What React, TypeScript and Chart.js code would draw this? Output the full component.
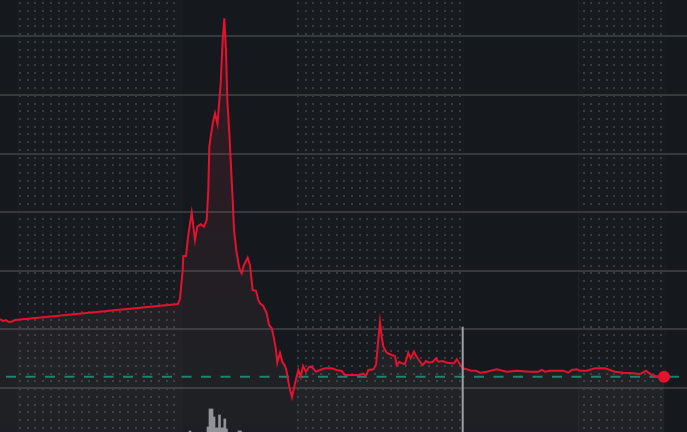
import React, { useEffect, useRef } from "react";
import { Chart, registerables } from "chart.js";

Chart.register(...registerables);

// Time (minutes from left edge of the view) and price samples
const times = [
  0, 3, 6, 9, 12, 15, 178, 180, 182.7, 183.3, 186, 188.3, 191.7, 195, 197.3, 200.7, 204, 206.7,
  208.3, 209.3, 210.7, 213, 215, 217.5, 220.7, 222.7, 224.3, 226, 227.3, 229.3, 231, 232.7, 234,
  236.7, 239.3, 241.7, 244, 247.7, 250, 252.7, 256, 258.3, 260, 263.3, 266.7, 269, 271.7, 274,
  276, 277.3, 280, 282.3, 285, 286.7, 289.3, 292, 295, 298.3, 300.7, 303, 306, 309, 311.7, 316,
  320, 325, 331.7, 336.7, 341.7, 345, 350, 360, 363.3, 366, 368.3, 373.3, 376, 378.3, 380, 381.7,
  383.3, 386.7, 391.7, 395, 396.7, 399.3, 401.7, 405, 408.3, 410.7, 414, 416.7, 420, 422.7, 426,
  429.3, 432.7, 436, 438.3, 442.7, 447.3, 451.7, 454, 456.7, 459.3, 462.7, 466.7, 471.7, 476, 480,
  486.7, 496.7, 506.7, 516.7, 530, 538.3, 541.7, 545, 550, 563.3, 568.3, 571.7, 576.7, 580, 586.7,
  595, 605, 610, 615, 623.3, 633.3, 640, 646, 651.7, 658.3, 664,
];
const prices = [
  1.589, 1.572, 1.58, 1.563, 1.568, 1.58, 1.717, 1.766, 2.007, 2.127, 2.127, 2.306, 2.496, 2.263,
  2.377, 2.397, 2.377, 2.434, 2.69, 3.059, 3.145, 3.27, 3.344, 3.253, 3.603, 3.97, 4.155, 3.885,
  3.458, 3.176, 2.889, 2.604, 2.348, 2.15, 2.022, 1.979, 2.05, 2.112, 2.05, 1.836, 1.83, 1.751,
  1.723, 1.7, 1.638, 1.538, 1.51, 1.424, 1.324, 1.216, 1.301, 1.224, 1.188, 1.139, 1.011, 0.921,
  1.04, 1.154, 1.096, 1.188, 1.139, 1.179, 1.182, 1.139, 1.154, 1.168, 1.168, 1.154, 1.145, 1.111,
  1.111, 1.111, 1.125, 1.102, 1.154, 1.16, 1.196, 1.41, 1.566, 1.438, 1.352, 1.301, 1.282, 1.273,
  1.196, 1.224, 1.211, 1.205, 1.301, 1.253, 1.31, 1.267, 1.224, 1.196, 1.23, 1.216, 1.224, 1.253,
  1.224, 1.23, 1.216, 1.211, 1.211, 1.245, 1.211, 1.168, 1.16, 1.148, 1.148, 1.131, 1.139, 1.16,
  1.139, 1.148, 1.139, 1.139, 1.154, 1.139, 1.148, 1.148, 1.131, 1.154, 1.16, 1.148, 1.148, 1.168,
  1.168, 1.154, 1.139, 1.131, 1.125, 1.119, 1.148, 1.111, 1.096, 1.096,
];

const prevClose = 1.096;
const gridLevels = [1, 1.5, 2, 2.5, 3, 3.5, 4];

const volTimes = [190, 208, 210, 212, 214, 216, 217.5, 219.5, 221.5, 223, 224.8, 226.5, 239, 240.5];
const volumes = [2, 10, 46, 46, 30, 8, 8, 34, 8, 8, 26, 6, 2, 2];

const sessionBands: [number, number][] = [
  [18, 181],
  [297, 462.5],
  [578, 665],
];
const markerTime = 462.7;
const markerTop = 1.523;

const xMin = 0;
const xMax = 687;
const yMin = 0.6245;
const yMax = 4.3115;
const volMax = 864;

const BG = "#15181c";

const bgPlugin = {
  id: "bgDots",
  beforeDraw(chart: any) {
    const { ctx, width, height } = chart;
    const x = chart.scales.x;
    ctx.save();
    ctx.fillStyle = BG;
    ctx.fillRect(0, 0, width, height);
    const step = 7.72;
    for (const [a, b] of sessionBands) {
      const pa = x.getPixelForValue(a);
      const pb = x.getPixelForValue(b);
      ctx.fillStyle = "rgba(255,255,255,0.01)";
      ctx.fillRect(pa, 0, pb - pa, height);
      ctx.fillStyle = "rgba(255,255,255,0.025)";
      ctx.fillRect(Math.round(pa), 0, 1, height);
      ctx.fillRect(Math.round(pb), 0, 1, height);
      ctx.fillStyle = "#383b40";
      const k0 = Math.ceil((pa - 20) / step);
      for (let px = 20 + k0 * step; px <= pb; px += step) {
        for (let py = 3.2; py < height; py += step) {
          ctx.fillRect(Math.round(px) - 1, Math.round(py) - 1, 2, 2);
        }
      }
    }
    ctx.restore();
  },
};

const markerPlugin = {
  id: "marker",
  afterDatasetsDraw(chart: any) {
    const { ctx } = chart;
    const px = chart.scales.x.getPixelForValue(markerTime);
    const top = chart.scales.y.getPixelForValue(markerTop);
    ctx.save();
    ctx.strokeStyle = "#9b9ea3";
    ctx.lineWidth = 2;
    ctx.beginPath();
    ctx.moveTo(px, top);
    ctx.lineTo(px, chart.height);
    ctx.stroke();
    ctx.restore();
  },
};

export default function App() {
  const ref = useRef<HTMLCanvasElement | null>(null);

  useEffect(() => {
    document.body.style.margin = "0";
    document.body.style.background = BG;
    const canvas = ref.current;
    if (!canvas) return;
    const last = times.length - 1;
    const chart = new Chart(canvas, {
      type: "line",
      data: {
        datasets: [
          {
            type: "line",
            data: times.map((t, i) => ({ x: t, y: prices[i] })),
            borderColor: "#e3122f",
            borderWidth: 2,
            tension: 0,
            pointRadius: (c: any) => (c.dataIndex === last ? 6 : 0),
            pointHoverRadius: (c: any) => (c.dataIndex === last ? 6 : 0),
            pointBackgroundColor: "#e3122f",
            pointBorderWidth: 0,
            fill: "start",
            backgroundColor: (c: any) => {
              const { chart: ch } = c;
              const area = ch.chartArea;
              if (!area) return "transparent";
              const g = ch.ctx.createLinearGradient(0, area.top, 0, area.bottom);
              g.addColorStop(0, "rgba(230,30,60,0.15)");
              g.addColorStop(0.46, "rgba(200,70,90,0.10)");
              g.addColorStop(0.76, "rgba(170,120,130,0.075)");
              g.addColorStop(1, "rgba(255,255,255,0.03)");
              return g;
            },
            order: 0,
            yAxisID: "y",
          } as any,
          {
            type: "line",
            data: [
              { x: xMin, y: prevClose },
              { x: xMax, y: prevClose },
            ],
            borderColor: "#15806a",
            borderWidth: 2,
            borderDash: [10, 9.5],
            borderDashOffset: 13.5,
            pointRadius: 0,
            fill: false,
            order: 1,
            yAxisID: "y",
          } as any,
          {
            type: "bar",
            data: volTimes.map((t, i) => ({ x: t, y: volumes[i] })),
            backgroundColor: "#8e9095",
            barThickness: 2,
            borderWidth: 0,
            order: 2,
            yAxisID: "yVol",
          } as any,
        ],
      },
      options: {
        animation: false,
        responsive: false,
        events: [],
        layout: { padding: 0, autoPadding: false },
        plugins: { legend: { display: false }, tooltip: { enabled: false } },
        scales: {
          x: {
            type: "linear",
            min: xMin,
            max: xMax,
            offset: false,
            display: false,
          },
          y: {
            type: "linear",
            min: yMin,
            max: yMax,
            afterBuildTicks: (scale: any) => {
              scale.ticks = gridLevels.map((v) => ({ value: v }));
            },
            ticks: { display: false },
            border: { display: false },
            grid: {
              drawTicks: false,
              lineWidth: 2,
              color: (c: any) => (c.tick && c.tick.value >= 3 ? "#333c3b" : "#37393d"),
            },
          },
          yVol: {
            type: "linear",
            min: 0,
            max: volMax,
            display: false,
          },
        },
      },
      plugins: [bgPlugin, markerPlugin],
    } as any);
    return () => chart.destroy();
  }, []);

  return (
    <div style={{ position: "fixed", left: 0, top: 0, width: 687, height: 432, background: BG }}>
      <canvas ref={ref} width={687} height={432} style={{ display: "block" }} />
    </div>
  );
}
